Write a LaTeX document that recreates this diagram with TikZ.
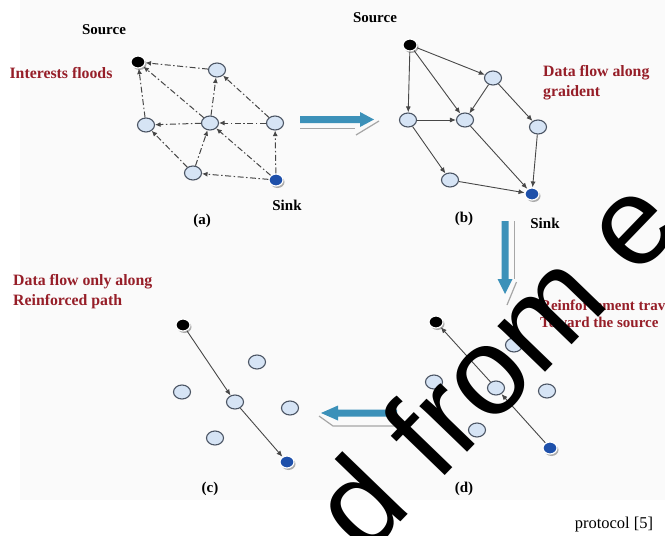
\documentclass[tikz,border=0pt]{standalone}
\usepackage{fontspec}
\setmainfont{Liberation Serif}
\newfontfamily\wmfont{Liberation Sans}
\usetikzlibrary{arrows.meta,shapes.geometric,shadows}
\definecolor{nodefill}{RGB}{214,228,245}
\definecolor{nodeedge}{RGB}{75,85,100}
\definecolor{sinkblue}{RGB}{30,80,170}
\definecolor{lblred}{RGB}{150,30,40}
\definecolor{bigarrow}{RGB}{60,145,185}
\definecolor{panelbg}{RGB}{250,250,250}
\tikzset{
  plain/.style={ellipse, draw=nodeedge, fill=nodefill, line width=1.1pt,
    minimum width=17pt, minimum height=14pt, inner sep=0pt},
  endnode/.style={ellipse, draw=white, line width=1.2pt, minimum width=14pt,
    minimum height=12pt, inner sep=0pt,
    drop shadow={shadow xshift=1.5pt, shadow yshift=-2pt, fill=black!40, opacity=0.8}},
  srcnode/.style={endnode, fill=black},
  sinknode/.style={endnode, fill=sinkblue},
  lbl/.style={font=\bfseries\fontsize{15}{17}\selectfont, inner sep=0pt},
  redlbl/.style={font=\bfseries\fontsize{15.8}{20}\selectfont, text=lblred, align=left, inner sep=0pt},
  flood/.style={-{Latex[length=5.5pt,width=5pt]}, draw=black!72, line width=1pt,
    dash pattern=on 6pt off 2.5pt on 1.5pt off 2.5pt},
  flow/.style={-{Latex[length=6pt,width=5pt]}, draw=black!72, line width=0.9pt},
  reflect/.style={draw=black!35, line width=1.2pt}
}
\begin{document}
\begin{tikzpicture}[x=1pt,y=-1pt]
\useasboundingbox (0,0) rectangle (665,536);
\clip (0,0) rectangle (665,536);
\fill[white] (0,0) rectangle (665,536);
\fill[panelbg] (20,0) rectangle (665,500);

% ---------- panel (a)
\node[lbl] (srcA) at (104,30) {Source};
\node[redlbl] (intA) at (61,73) {Interests floods};
\node[srcnode] (a0) at (138,62) {};
\node[plain] (a1) at (217,70) {};
\node[plain] (a2) at (146,125) {};
\node[plain] (a3) at (210,123) {};
\node[plain] (a4) at (275,123) {};
\node[plain] (a5) at (193,173) {};
\node[sinknode] (a6) at (276,180) {};
\node[lbl] (sinkA) at (287,205) {Sink};
\node[lbl] (capA) at (202,221) {(a)};
\draw[flood] (a1) -- (a0);
\draw[flood] (a3) -- (a0);
\draw[flood] (a2) -- (a0);
\draw[flood] (a3) -- (a1);
\draw[flood] (a4) -- (a1);
\draw[flood] (a3) -- (a2);
\draw[flood] (a4) -- (a3);
\draw[flood] (a5) -- (a2);
\draw[flood] (a5) -- (a3);
\draw[flood] (a6) -- (a3);
\draw[flood] (a6) -- (a4);
\draw[flood] (a6) -- (a5);

% ---------- panel (b)
\node[lbl] (srcB) at (375,18) {Source};
\node[srcnode] (b0) at (410,45) {};
\node[plain] (b1) at (493,78) {};
\node[plain] (b2) at (408,120) {};
\node[plain] (b3) at (465,120) {};
\node[plain] (b4) at (538,127) {};
\node[plain] (b5) at (450,180) {};
\node[sinknode] (b6) at (532,194) {};
\node[redlbl, anchor=west] (dfB) at (543,83) {Data flow along\\graident};
\node[lbl] (capB) at (464,219) {(b)};
\node[lbl] (sinkB) at (545,223) {Sink};
\draw[flow] (b0) -- (b1);
\draw[flow] (b0) -- (b2);
\draw[flow] (b0) -- (b3);
\draw[flow] (b1) -- (b3);
\draw[flow] (b1) -- (b4);
\draw[flow] (b2) -- (b3);
\draw[flow] (b2) -- (b5);
\draw[flow] (b3) -- (b6);
\draw[flow] (b4) -- (b6);
\draw[flow] (b5) -- (b6);

% ---------- panel (c)
\node[redlbl, anchor=west] (dfC) at (13,292) {Data flow only along\\Reinforced path};
\node[srcnode] (c0) at (183,325) {};
\node[plain] (c1) at (257,362) {};
\node[plain] (c2) at (182,392) {};
\node[plain] (c3) at (235,402) {};
\node[plain] (c4) at (290,408) {};
\node[plain] (c5) at (215,438) {};
\node[sinknode] (c6) at (287,462) {};
\node[lbl] (capC) at (210,489) {(c)};
\draw[flow] (c0) -- (c3);
\draw[flow] (c3) -- (c6);

% ---------- panel (d)
\node[srcnode] (d0) at (436,322) {};
\node[plain] (d1) at (514,345) {};
\node[plain] (d2) at (434,382) {};
\node[plain] (d3) at (496,388) {};
\node[plain] (d4) at (547,391) {};
\node[plain] (d5) at (477,430) {};
\node[sinknode] (d6) at (550,448) {};
\node[redlbl, anchor=west, font=\bfseries\fontsize{15}{17}\selectfont] (rfD) at (540,314) {Reinforcement travels\\Toward the source};
\node[lbl] (capD) at (464,489) {(d)};
\draw[flow] (d6) -- (d3);
\draw[flow] (d3) -- (d0);

% ---------- big arrows
% (a) -> (b)
\fill[bigarrow] (300,116) -- (360,116) -- (360,112) -- (374,119.5) -- (360,127) -- (360,123) -- (300,123) -- cycle;
\draw[reflect] (300,128.5) -- (355,128.5);
\draw[reflect] (356,135) -- (379,121);
% (b) -> (d)
\fill[bigarrow] (501.5,221) -- (501.5,279) -- (497.5,279) -- (505,294) -- (512.5,279) -- (508.5,279) -- (508.5,221) -- cycle;
\draw[reflect] (514.5,221) -- (514.5,279);
\draw[reflect] (516.5,282) -- (507,305);
% (d) -> (c)
\fill[bigarrow] (397,409.5) -- (338,409.5) -- (338,405.5) -- (321,413) -- (338,420.5) -- (338,416.5) -- (397,416.5) -- cycle;
\draw[reflect] (319,416) -- (333,426) -- (398,426);

% ---------- caption fragment
\node[font=\fontsize{16.5}{18}\selectfont, inner sep=0pt] (prot) at (614,525) {protocol [5]};

% ---------- watermark
\node[font=\wmfont\fontsize{125}{125}\selectfont, rotate=46, anchor=mid, inner sep=0pt] (wm) at (523,392) {d from e};
\end{tikzpicture}
\end{document}
